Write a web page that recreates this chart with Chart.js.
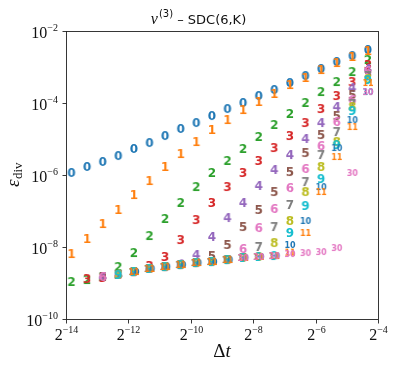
<!DOCTYPE html>
<html>
<head>
<meta charset="utf-8">
<script src="https://cdn.jsdelivr.net/npm/chart.js@4.4.0/dist/chart.umd.min.js"></script>
<style>
  html, body { margin: 0; padding: 0; background: #fff; }
</style>
</head>
<body>
<canvas id="chart" width="397" height="365"></canvas>
<script>
// time step sizes, smallest first
const dt = [6.9053e-5, 9.765625e-5, 1.3811e-4, 1.953125e-4, 2.7621e-4, 3.90625e-4, 5.5243e-4,
  7.8125e-4, 1.1049e-3, 1.5625e-3, 2.2097e-3, 3.125e-3, 4.4194e-3, 6.25e-3, 8.8388e-3,
  1.25e-2, 1.7678e-2, 2.5e-2, 3.5355e-2, 5e-2];

// number of sweeps K, used as the marker text
const sweeps = ['0', '1', '2', '3', '4', '5', '6', '7', '8', '9', '10', '11', '30'];
const colors = ['#1f77b4', '#ff7f0e', '#2ca02c', '#d62728', '#9467bd', '#8c564b', '#e377c2',
  '#7f7f7f', '#bcbd22', '#17becf', '#1f77b4', '#ff7f0e', '#e377c2'];

// divergence error per K (null = no run for that dt)
const err_k0 = [1.14e-6, 1.67e-6, 2.30e-6, 3.37e-6, 5.28e-6, 7.74e-6, 1.21e-5, 1.90e-5, 2.78e-5, 4.35e-5,
  6.81e-5, 1.0e-4, 1.56e-4, 2.30e-4, 3.59e-4, 5.62e-4, 8.80e-4, 1.38e-3, 2.02e-3, 2.97e-3];
const err_k1 = [6.39e-9, 1.67e-8, 4.35e-8, 1.07e-7, 2.78e-7, 6.81e-7, 1.67e-6, 3.83e-6, 8.25e-6, 1.78e-5,
  3.37e-5, 6.39e-5, 1.07e-4, 1.78e-4, 3.16e-4, 4.95e-4, 8.25e-4, 1.29e-3, 1.90e-3, 2.78e-3];
const err_k2 = [1.07e-9, 1.21e-9, 1.47e-9, 2.78e-9, 6.81e-9, 2.02e-8, 6.0e-8, 1.67e-7, 4.64e-7, 1.14e-6,
  2.45e-6, 5.28e-6, 1.14e-5, 2.45e-5, 4.95e-5, 1.0e-4, 2.02e-4, 3.83e-4, 7.26e-4, 1.56e-3];
const err_k3 = [null, 1.29e-9, 1.38e-9, 1.67e-9, 2.02e-9, 2.97e-9, 5.28e-9, 1.56e-8, 5.62e-8, 1.67e-7,
  4.64e-7, 1.14e-6, 2.45e-6, 5.62e-6, 1.21e-5, 2.78e-5, 6.81e-5, 1.56e-4, 3.83e-4, 1.14e-3];
const err_k4 = [null, null, 1.47e-9, 1.67e-9, 2.02e-9, 2.45e-9, 2.78e-9, 3.3e-9, 6.0e-9, 1.90e-8,
  6.39e-8, 1.67e-7, 4.95e-7, 1.38e-6, 3.59e-6, 1.0e-5, 2.78e-5, 7.74e-5, 2.61e-4, 8.80e-4];
const err_k5 = [null, null, 1.47e-9, 1.67e-9, 2.02e-9, 2.45e-9, 2.78e-9, 3.16e-9, 3.59e-9, 5.62e-9,
  1.14e-8, 3.59e-8, 1.07e-7, 3.37e-7, 1.21e-6, 4.08e-6, 1.29e-5, 4.35e-5, 1.67e-4, 6.39e-4];
const err_k6 = [null, null, 1.47e-9, 1.67e-9, 2.02e-9, 2.45e-9, 2.78e-9, 3.16e-9, 3.59e-9, 3.83e-9,
  4.35e-9, 8.80e-9, 3.37e-8, 1.14e-7, 4.35e-7, 1.47e-6, 6.39e-6, 2.97e-5, 1.21e-4, 7.74e-4];
const err_k7 = [null, null, null, 1.67e-9, 2.02e-9, 2.45e-9, 2.78e-9, 3.16e-9, 3.59e-9, 3.83e-9,
  4.35e-9, 4.95e-9, 1.0e-8, 3.59e-8, 1.47e-7, 6.39e-7, 3.59e-6, 1.56e-5, 9.38e-5, 5.62e-4];
const err_k8 = [null, null, null, 1.67e-9, 2.02e-9, 2.45e-9, 2.78e-9, 3.16e-9, 3.59e-9, 3.83e-9,
  4.35e-9, 4.95e-9, 5.28e-9, 1.29e-8, 5.28e-8, 3.37e-7, 1.67e-6, 8.25e-6, 7.74e-5, 4.64e-4];
const err_k9 = [null, null, null, 1.67e-9, 2.02e-9, 2.45e-9, 2.78e-9, 3.16e-9, 3.59e-9, 3.83e-9,
  4.35e-9, 4.95e-9, 5.28e-9, 5.62e-9, 2.45e-8, 1.38e-7, 7.74e-7, 6.81e-6, 6.0e-5, 4.35e-4];
const err_k10 = [null, null, null, null, 2.02e-9, 2.45e-9, 2.78e-9, 3.16e-9, 3.59e-9, 3.83e-9,
  4.35e-9, 4.95e-9, 5.28e-9, 5.62e-9, 1.14e-8, 5.28e-8, 4.64e-7, 5.62e-6, 3.37e-5, 2.02e-4];
const err_k11 = [null, null, null, null, 2.02e-9, 2.45e-9, 2.78e-9, 3.16e-9, 3.59e-9, 3.83e-9,
  4.35e-9, 4.95e-9, 5.28e-9, 5.62e-9, 7.0e-9, 2.45e-8, 3.37e-7, 3.16e-6, 2.15e-5, 3.59e-4];
const err_k30 = [null, null, null, null, null, null, null, null, null, null,
  null, 4.95e-9, 5.28e-9, 5.62e-9, 6.39e-9, 6.81e-9, 7.26e-9, 9.38e-9, 1.14e-6, 2.02e-4];

const series = [err_k0, err_k1, err_k2, err_k3, err_k4, err_k5, err_k6, err_k7, err_k8,
  err_k9, err_k10, err_k11, err_k30];

const xTicks = [-14, -12, -10, -8, -6, -4];
const yTicks = [-2, -4, -6, -8, -10];

// text markers like matplotlib's marker='$k$'
function textMarker(text, color) {
  const small = text.length > 1;
  const c = document.createElement('canvas');
  c.width = small ? 14 : 10;
  c.height = small ? 10 : 14;
  const g = c.getContext('2d');
  g.font = small ? 'bold 8px "DejaVu Sans"' : 'bold 12px "DejaVu Sans"';
  g.fillStyle = color;
  g.textAlign = 'center';
  g.textBaseline = 'alphabetic';
  g.fillText(text, c.width / 2, c.height / 2 + (small ? 2.9 : 4.4));
  return c;
}

const datasets = series.map((vals, i) => ({
  label: sweeps[i],
  data: vals.map((v, j) => v === null ? null : { x: dt[j], y: v }).filter(p => p),
  pointStyle: textMarker(sweeps[i], colors[i]),
  pointRadius: 5,
  order: series.length - i,
  showLine: false
}));

function supText(ctx, base, sup, x, y, align, baseFont, supFont, rise) {
  ctx.font = baseFont;
  const wb = ctx.measureText(base).width;
  ctx.font = supFont;
  const ws = ctx.measureText(sup).width;
  const w = wb + ws;
  let x0 = align === 'right' ? x - w : x - w / 2;
  ctx.textAlign = 'left';
  ctx.font = baseFont;
  ctx.fillText(base, x0, y);
  ctx.font = supFont;
  ctx.fillText(sup, x0 + wb, y - rise);
}

const decorations = {
  id: 'decorations',
  afterDraw(chart) {
    const { ctx, chartArea: a, scales: { x, y } } = chart;
    ctx.save();
    ctx.strokeStyle = '#222';
    ctx.lineWidth = 0.9;
    const L = Math.round(a.left) + 0.5, R = Math.round(a.right) + 0.5;
    const T = Math.round(a.top) + 0.5, B = Math.round(a.bottom) + 0.5;
    ctx.strokeRect(L, T, R - L, B - T);

    ctx.fillStyle = '#111';
    ctx.textBaseline = 'alphabetic';
    xTicks.forEach(p => {
      const px = Math.round(x.getPixelForValue(Math.pow(2, p))) + 0.5;
      ctx.beginPath(); ctx.moveTo(px, B); ctx.lineTo(px, B + 4); ctx.stroke();
      supText(ctx, '2', '\u2212' + Math.abs(p), px, a.bottom + 21, 'center',
        '16px "Liberation Serif"', '10px "Liberation Serif"', 7);
    });
    yTicks.forEach(p => {
      const py = Math.round(y.getPixelForValue(Math.pow(10, p))) + 0.5;
      ctx.beginPath(); ctx.moveTo(L - 4, py); ctx.lineTo(L, py); ctx.stroke();
      supText(ctx, '10', '\u2212' + Math.abs(p), a.left - 8, py + 6, 'right',
        '16px "Liberation Serif"', '10px "Liberation Serif"', 7);
    });

    // x label
    ctx.textAlign = 'left';
    ctx.font = '19px "Liberation Serif"';
    const wD = ctx.measureText('\u0394').width;
    ctx.font = 'italic 19px "Liberation Serif"';
    const wt = ctx.measureText('t').width;
    const cx = (a.left + a.right) / 2;
    ctx.font = '19px "Liberation Serif"';
    ctx.fillText('\u0394', cx - (wD + wt) / 2, 357);
    ctx.font = 'italic 19px "Liberation Serif"';
    ctx.fillText('t', cx - (wD + wt) / 2 + wD, 357);

    // y label
    ctx.save();
    ctx.translate(19, 175);
    ctx.rotate(-Math.PI / 2);
    ctx.font = 'italic 19px "Liberation Serif"';
    const we = ctx.measureText('\u03b5').width;
    ctx.font = '13px "Liberation Serif"';
    const wdiv = ctx.measureText('div').width;
    ctx.font = 'italic 19px "Liberation Serif"';
    ctx.fillText('\u03b5', -(we + wdiv) / 2, 0);
    ctx.font = '13px "Liberation Serif"';
    ctx.fillText('div', -(we + wdiv) / 2 + we + 0.5, 3);
    ctx.restore();

    // title
    const tNu = 'italic 16px "Liberation Serif"', tSup = '10px "DejaVu Sans"', tRest = '13px "DejaVu Sans"';
    ctx.font = tNu; const w1 = ctx.measureText('\u03bd').width;
    ctx.font = tSup; const w2 = ctx.measureText('(3)').width;
    const rest = ' \u2013 SDC(6,K)';
    ctx.font = tRest; const w3 = ctx.measureText(rest).width;
    let tx = 198.5 - (w1 + w2 + w3 + 1) / 2;
    ctx.font = tNu; ctx.fillText('\u03bd', tx, 24);
    ctx.font = tSup; ctx.fillText('(3)', tx + w1 + 1, 17);
    ctx.font = tRest; ctx.fillText(rest, tx + w1 + 1 + w2, 24);
    ctx.restore();
  }
};

new Chart(document.getElementById('chart'), {
  type: 'scatter',
  data: { datasets: datasets },
  options: {
    responsive: false,
    animation: false,
    devicePixelRatio: 1,
    layout: { padding: { top: 31, right: 19, left: 0, bottom: 0 } },
    plugins: { legend: { display: false }, tooltip: { enabled: false } },
    scales: {
      x: {
        type: 'logarithmic',
        min: Math.pow(2, -14),
        max: Math.pow(2, -4),
        grid: { display: false },
        border: { display: false },
        ticks: { display: false },
        afterBuildTicks: s => { s.ticks = xTicks.map(p => ({ value: Math.pow(2, p) })); },
        afterFit: s => { s.height = 46; }
      },
      y: {
        type: 'logarithmic',
        min: 1e-10,
        max: 1e-2,
        grid: { display: false },
        border: { display: false },
        ticks: { display: false },
        afterBuildTicks: s => { s.ticks = yTicks.map(p => ({ value: Math.pow(10, p) })); },
        afterFit: s => { s.height = undefined; s.width = 66; }
      }
    }
  },
  plugins: [decorations]
});
</script>
</body>
</html>
